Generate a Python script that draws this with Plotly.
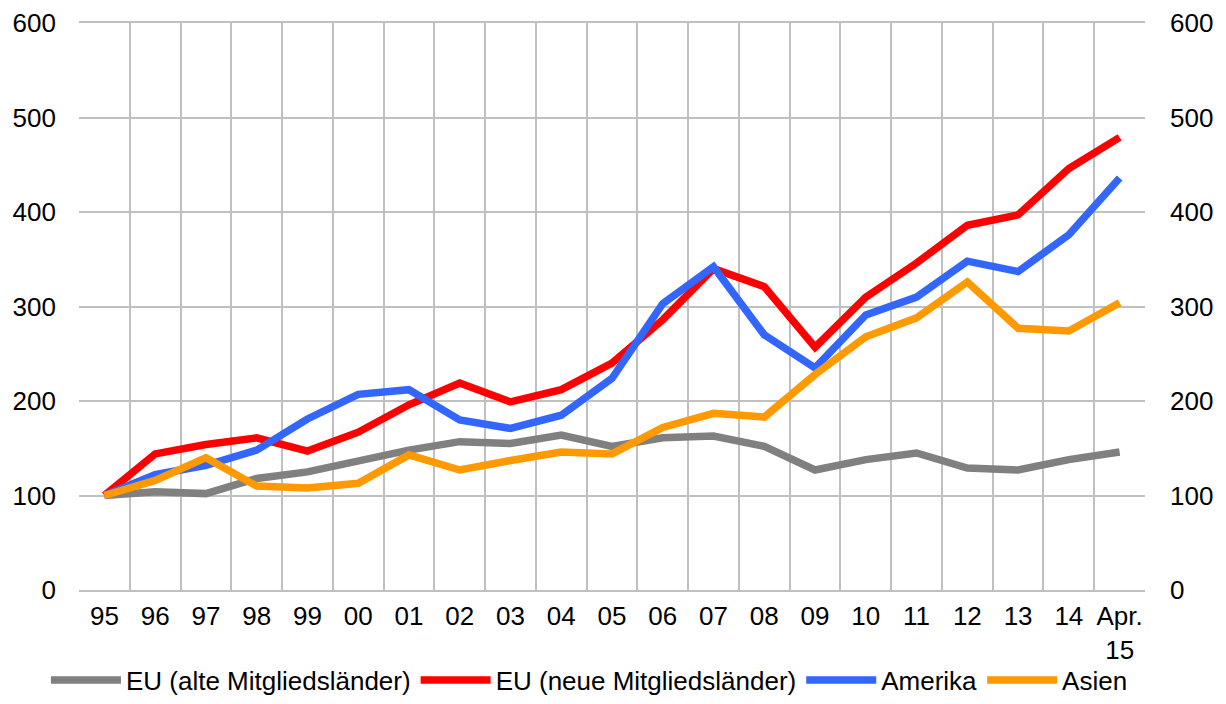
import plotly.graph_objects as go

categories = ["95", "96", "97", "98", "99", "00", "01", "02", "03", "04", "05",
              "06", "07", "08", "09", "10", "11", "12", "13", "14", "Apr.<br>15"]

eu_alt = [100, 104, 102, 118, 125, 137, 148, 157, 155, 164, 152,
          161, 163, 152, 127, 138, 145, 129, 127, 138, 146]
eu_neu = [100, 144, 154, 161, 147, 167, 196, 219, 199, 212, 240,
          286, 340, 321, 257, 310, 346, 386, 397, 446, 479]
amerika = [100, 122, 132, 148, 181, 207, 212, 180, 171, 185, 224,
           303, 342, 270, 235, 291, 310, 348, 337, 376, 436]
asien = [100, 116, 140, 110, 108, 113, 143, 127, 137, 146, 144,
         172, 187, 183, 228, 268, 288, 326, 277, 274, 304]

series = [
    ("EU (alte Mitgliedsländer)", eu_alt, "#808080"),
    ("EU (neue Mitgliedsländer)", eu_neu, "#ff0000"),
    ("Amerika", amerika, "#3366ff"),
    ("Asien", asien, "#ff9900"),
]

y_ticks = [0, 100, 200, 300, 400, 500, 600]

fig = go.Figure()
for name, vals, col in series:
    fig.add_trace(go.Scatter(x=categories, y=vals, name=name, mode="lines",
                             line=dict(color=col, width=7.5)))
# dummy trace for the secondary (right) axis
fig.add_trace(go.Scatter(x=categories, y=eu_alt, yaxis="y2", mode="lines",
                         line=dict(color="rgba(0,0,0,0)", width=0),
                         showlegend=False, hoverinfo="skip"))

font = dict(family="Liberation Sans, Arial, sans-serif", size=26, color="#000000")
grid = "#c0c0c0"

# page body has an 8px default margin, so the figure is shifted by (8, 8)
fig.update_layout(
    width=1210, height=688,
    margin=dict(l=71, r=73, t=15, b=106, autoexpand=False),
    plot_bgcolor="white", paper_bgcolor="white",
    font=font,
    showlegend=True,
    legend=dict(orientation="h", x=-0.031, xanchor="left", y=-0.159, yanchor="middle",
                font=font, traceorder="normal", itemwidth=70,
                bgcolor="rgba(0,0,0,0)"),
    xaxis=dict(type="category", range=[-0.5, 20.5], tickson="boundaries",
               showgrid=True, gridcolor=grid, gridwidth=2,
               showline=True, linecolor=grid, linewidth=2, mirror=True,
               ticks="", tickangle=0, ticklabelstandoff=2, tickfont=font,
               automargin=False),
    yaxis=dict(range=[0, 600], tickvals=y_ticks, showgrid=True, gridcolor=grid,
               gridwidth=2, zeroline=False, showline=False, ticks="",
               ticklabelstandoff=22, tickfont=font, automargin=False),
    yaxis2=dict(range=[0, 600], tickvals=y_ticks, overlaying="y", side="right",
                showgrid=False, zeroline=False, showline=False, ticks="",
                ticklabelstandoff=24, tickfont=font, automargin=False),
)

fig.write_html("out.html")
